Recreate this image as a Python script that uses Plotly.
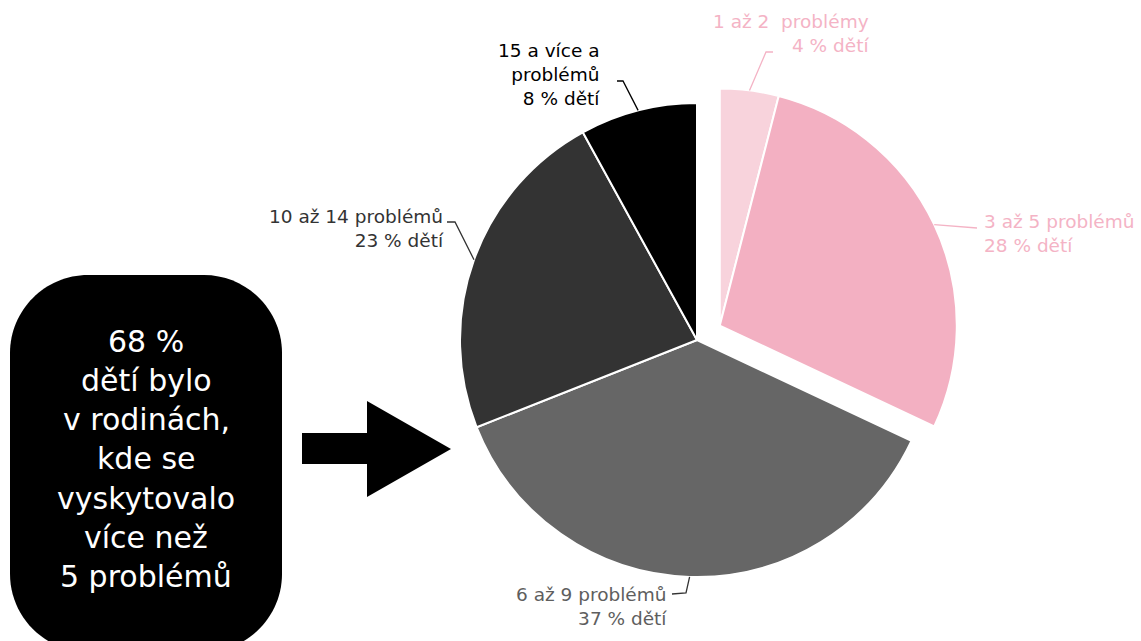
import math
import plotly.graph_objects as go

# --- data -------------------------------------------------------------
categories = ["1 až 2\u00a0 problémy", "3 až 5 problémů", "6 až 9 problémů",
              "10 až 14 problémů", "15 a více a<br>problémů"]
shares = [4, 28, 37, 23, 8]
share_unit = "% dětí"
pulled = [True, True, False, False, False]

slice_colors = ["#F8D3DC", "#F3B0C2", "#666666", "#333333", "#000000"]
text_colors = ["#F4B3C5", "#F4B3C5", "#5E5E5E", "#333333", "#000000"]
line_colors = ["#F4B3C5", "#F4B3C5", "#333333", "#333333", "#000000"]

box_lines = ["68 %", "dětí bylo", "v rodinách,", "kde se",
             "vyskytovalo", "více než", "5 problémů"]

# --- geometry (pixels) ------------------------------------------------
W, H = 1141, 641
CX, CY, R = 697, 340, 237          # pie centre and radius
PULL_PX = 27                        # offset of the pulled group

# label block: (x, centre y, xanchor, elbow points of the leader line)
label_layout = [
    (871, 33.5, "right", [(766, 52), (773, 52)]),
    (982, 233.5, "left", [(977, 228)]),
    (669, 606.5, "right", [(686, 593), (672, 594)]),
    (446, 228, "right", [(455, 222), (447, 222)]),
    (602, 74, "right", [(623, 81), (617, 81)]),
]

FONT = "DejaVu Sans"
total = sum(shares)

# pulled slices move together along the bisector of their common wedge
pulled_total = sum(v for v, p in zip(shares, pulled) if p)
mid_deg = 360 * pulled_total / total / 2
dx = PULL_PX * math.sin(math.radians(mid_deg))
dy = -PULL_PX * math.cos(math.radians(mid_deg))
PCX, PCY = CX + dx, CY + dy


def domain(cx, cy):
    return dict(x=[(cx - R) / W, (cx + R) / W],
                y=[1 - (cy + R) / H, 1 - (cy - R) / H])


def wedge_trace(keep, cx, cy):
    vals, cols, widths = [], [], []
    for v, c, p in zip(shares, slice_colors, pulled):
        vals.append(v)
        cols.append(c if p == keep else "rgba(0,0,0,0)")
        widths.append(2 if p == keep else 0)
    return go.Pie(
        values=vals, labels=[str(i) for i in range(len(vals))],
        sort=False, direction="clockwise", rotation=0,
        marker=dict(colors=cols, line=dict(color="white", width=widths)),
        textinfo="none", hoverinfo="skip", showlegend=False,
        domain=domain(cx, cy),
    )


fig = go.Figure()
fig.add_trace(wedge_trace(False, CX, CY))
fig.add_trace(wedge_trace(True, PCX, PCY))

shapes = []
annotations = []

# slice labels and leader lines
cum = 0
for i, v in enumerate(shares):
    mid = math.radians(360 * (cum + v / 2) / total)
    cum += v
    cx, cy = (PCX, PCY) if pulled[i] else (CX, CY)
    sx = cx + R * math.sin(mid)
    sy = cy - R * math.cos(mid)
    lx, ly, xa, elbow = label_layout[i]
    path = f"M {sx:.1f},{sy:.1f} " + " ".join(f"L {x},{y}" for x, y in elbow)
    shapes.append(dict(type="path", path=path, xref="x", yref="y",
                       line=dict(color=line_colors[i], width=1.3)))
    annotations.append(dict(
        x=lx, y=ly, xref="x", yref="y", xanchor=xa, yanchor="middle",
        text=f"{categories[i]}<br>{v} {share_unit}", showarrow=False,
        align=xa, font=dict(family=FONT, size=18.5, color=text_colors[i]),
    ))

# rounded black box on the left
bx0, bx1, by0, by1, rr = 10, 282, 275, 652, 78
box_path = (f"M {bx0 + rr},{by0} L {bx1 - rr},{by0} "
            f"C {bx1 - rr * 0.45},{by0} {bx1},{by0 + rr * 0.45} {bx1},{by0 + rr} "
            f"L {bx1},{by1 - rr} "
            f"C {bx1},{by1 - rr * 0.45} {bx1 - rr * 0.45},{by1} {bx1 - rr},{by1} "
            f"L {bx0 + rr},{by1} "
            f"C {bx0 + rr * 0.45},{by1} {bx0},{by1 - rr * 0.45} {bx0},{by1 - rr} "
            f"L {bx0},{by0 + rr} "
            f"C {bx0},{by0 + rr * 0.45} {bx0 + rr * 0.45},{by0} {bx0 + rr},{by0} Z")
shapes.append(dict(type="path", path=box_path, xref="x", yref="y",
                   fillcolor="black", line=dict(width=0)))

# arrow pointing at the pie
shapes.append(dict(type="path", xref="x", yref="y", fillcolor="black",
                   line=dict(width=0),
                   path="M 302,433 L 367,433 L 367,401 L 451,449 L 367,497 "
                        "L 367,464 L 302,464 Z"))

for j, line in enumerate(box_lines):
    annotations.append(dict(
        x=146, y=341 + j * 39.3, xref="x", yref="y", xanchor="center",
        yanchor="middle", text=line, showarrow=False,
        font=dict(family=FONT, size=30, color="white"),
    ))

fig.update_layout(
    width=W, height=H, margin=dict(l=0, r=0, t=0, b=0),
    paper_bgcolor="white", plot_bgcolor="rgba(0,0,0,0)",
    xaxis=dict(range=[0, W], visible=False, fixedrange=True),
    yaxis=dict(range=[H, 0], visible=False, fixedrange=True),
    shapes=shapes, annotations=annotations, showlegend=False,
)

fig.write_html("out.html")
